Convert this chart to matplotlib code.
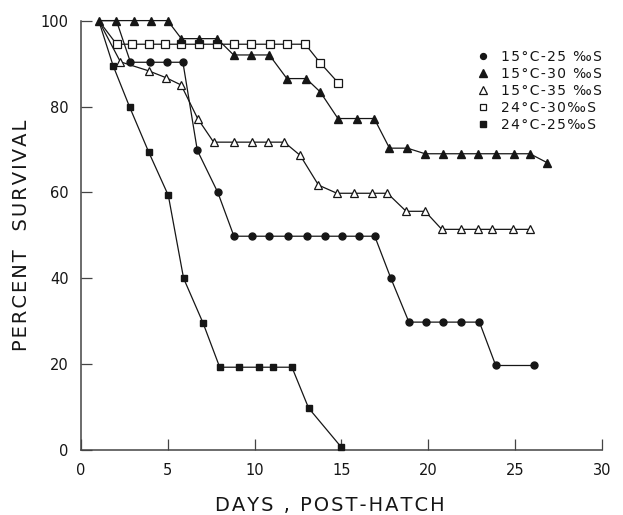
import matplotlib
matplotlib.use('Agg')
import matplotlib.pyplot as plt
from matplotlib.lines import Line2D

# survival (%) vs days post-hatch
days_15_25 = [1.02, 2.04, 2.85, 3.95, 4.97, 5.87, 6.7, 7.88, 8.81, 9.83, 10.85, 11.92, 13.04,
              14.05, 15.05, 16.01, 16.92, 17.84, 18.89, 19.86, 20.88, 21.91, 22.95, 23.89, 26.1]
surv_15_25 = [100, 100, 90.3, 90.3, 90.3, 90.3, 69.8, 60, 49.8, 49.8, 49.8, 49.8, 49.8,
              49.8, 49.8, 49.8, 49.8, 40.1, 29.8, 29.8, 29.8, 29.8, 29.8, 19.7, 19.7]

days_15_30 = [1.02, 2.04, 3.04, 4.04, 4.99, 5.78, 6.78, 7.84, 8.79, 9.79, 10.85, 11.86, 12.97,
              13.78, 14.8, 15.89, 16.89, 17.77, 18.8, 19.82, 20.84, 21.89, 22.89, 23.91,
              24.94, 25.86, 26.86]
surv_15_30 = [100, 100, 100, 100, 100, 95.8, 95.8, 95.8, 92, 92, 92, 86.5, 86.5,
              83.4, 77.2, 77.2, 77.2, 70.3, 70.3, 69, 69, 69, 69, 69,
              69, 69, 66.9]

days_15_35 = [1.02, 2.27, 3.9, 4.9, 5.77, 6.72, 7.64, 8.79, 9.85, 10.75, 11.71, 12.63, 13.68,
              14.74, 15.74, 16.79, 17.65, 18.73, 19.82, 20.78, 21.89, 22.85, 23.69, 24.9, 25.86]
surv_15_35 = [100, 90.4, 88.3, 86.7, 85.0, 77.2, 71.7, 71.7, 71.7, 71.7, 71.7, 68.6, 61.7,
              59.8, 59.8, 59.8, 59.8, 55.6, 55.6, 51.4, 51.4, 51.4, 51.4, 51.4, 51.4]

days_24_30 = [1.02, 2.05, 2.95, 3.9, 4.86, 5.78, 6.78, 7.84, 8.83, 9.79, 10.86, 11.86, 12.92,
              13.77, 14.82]
surv_24_30 = [100, 94.5, 94.5, 94.5, 94.5, 94.5, 94.5, 94.5, 94.5, 94.5, 94.5, 94.5, 94.5,
              90.2, 85.5]

days_24_25 = [1.02, 1.85, 2.81, 3.9, 5.03, 5.91, 7.03, 7.99, 9.1, 10.27, 11.06, 12.15, 13.11, 14.99]
surv_24_25 = [100, 89.5, 79.8, 69.4, 59.3, 40.0, 29.6, 19.3, 19.3, 19.3, 19.3, 19.3, 9.8, 0.7]

labels = ['15\u00b0C-25 \u2030S', '15\u00b0C-30 \u2030S', '15\u00b0C-35 \u2030S',
          '24\u00b0C-30\u2030S', '24\u00b0C-25\u2030S']

ink = '#161616'
styles = [
    dict(marker='o', ms=5, mfc=ink, mec=ink),
    dict(marker='^', ms=6, mfc=ink, mec=ink),
    dict(marker='^', ms=6, mfc='white', mec=ink, mew=0.9),
    dict(marker='s', ms=5.2, mfc='white', mec=ink, mew=0.9),
    dict(marker='s', ms=5, mfc=ink, mec=ink),
]
# shared 100% starting points are only marked by the filled triangles
marks = [slice(2, None), None, slice(1, None), slice(1, None), slice(1, None)]
zorders = [3, 6, 4, 4, 5]
series = [(days_15_25, surv_15_25), (days_15_30, surv_15_30), (days_15_35, surv_15_35),
          (days_24_30, surv_24_30), (days_24_25, surv_24_25)]

plt.rcParams['font.family'] = 'DejaVu Sans'

fig = plt.figure(figsize=(6.23, 5.15), dpi=100)
ax = fig.add_axes([0.130, 0.126, 0.836, 0.834])

for (d, s), st, z, m in zip(series, styles, zorders, marks):
    ax.plot(d, s, color=ink, lw=0.9, clip_on=False, zorder=z, markevery=m, **st)

ax.set_xlim(0, 30)
ax.set_ylim(0, 100)
ax.set_xticks([0, 5, 10, 15, 20, 25, 30])
ax.set_yticks([0, 20, 40, 60, 80, 100])
ax.spines['top'].set_visible(False)
ax.spines['right'].set_visible(False)
for sp in ('left', 'bottom'):
    ax.spines[sp].set_color('#444444')
    ax.spines[sp].set_linewidth(1.1)
ax.tick_params(direction='in', length=8, width=0.9, color='#444444',
               labelsize=10.5, labelcolor=ink, pad=9)

hs = '\u200a'
ax.set_xlabel(hs.join('DAYS , POST-HATCH'), fontsize=14, color=ink)
ax.xaxis.set_label_coords(0.478, -0.107)
ax.set_ylabel(hs.join('PERCENT') + '   ' + hs.join('SURVIVAL'), fontsize=14, color=ink,
              labelpad=7)

handles = [Line2D([], [], linestyle='none', color=ink, **dict(st, ms=st['ms'] * 0.85))
           for st in styles]
leg = ax.legend(handles, [hs.join(l) for l in labels], loc='upper left',
                bbox_to_anchor=(0.75, 0.945), frameon=False, fontsize=10,
                handlelength=0.8, handletextpad=0.9, labelspacing=0.22,
                borderaxespad=0)
for t in leg.get_texts():
    t.set_color(ink)

fig.savefig('out.png', dpi=100)
